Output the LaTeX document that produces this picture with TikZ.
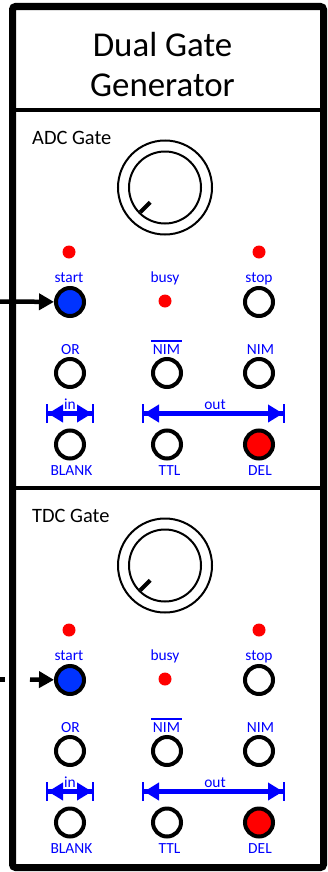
\documentclass[tikz,border=0pt]{standalone}
\usepackage{fontspec}
\setmainfont{Carlito}
\usetikzlibrary{arrows.meta,positioning,calc}
\definecolor{lblblue}{RGB}{0,0,255}
\definecolor{sockblue}{RGB}{0,51,255}
\definecolor{ledred}{RGB}{255,0,0}
\tikzset{
  casing/.style={draw=black, line width=7bp, rounded corners=3bp},
  divider/.style={draw=black, line width=4bp},
  heading/.style={font=\fontsize{35}{40}\selectfont, anchor=base, inner sep=0pt},
  gatelbl/.style={font=\fontsize{20.5}{24}\selectfont, anchor=base west, inner sep=0pt},
  knob/.style={circle, draw=black, line width=2bp, minimum size=#1, inner sep=0pt},
  knob/.default=94bp,
  pointer/.style={line width=4bp},
  socket/.style={circle, draw=black, fill=white, line width=4bp,
                 minimum size=28bp, inner sep=0pt},
  led/.style={circle, fill=ledred, minimum size=13bp, inner sep=0pt},
  lbl/.style={text=lblblue, font=\fontsize{15.5}{18}\selectfont, anchor=base, inner sep=0pt},
  nimbar/.style={draw=lblblue, line width=1.8bp},
  feed/.style={line width=4.5bp, -{Triangle[length=15bp, width=16bp]}},
  span/.style={draw=lblblue, line width=4.5bp,
    {Bar[width=19bp, line width=2bp]Triangle[length=15bp, width=17bp]}-{Triangle[length=15bp, width=17bp]Bar[width=19bp, line width=2bp]}},
}
\begin{document}
\begin{tikzpicture}[x=1bp, y=1bp]
  \useasboundingbox (0,0) rectangle (327,-872);
  % case and title
  \draw[casing] (12.5,-6.5) rectangle (323.5,-867.5);
  \node[heading] (title1) at (162.5,-56) {Dual Gate};
  \node[heading] (title2) at (162.5,-96) {Generator};
  \draw[divider] (9,-110) -- (327,-110);
  \draw[divider] (9,-488) -- (327,-488);
  % the two gate panels
  \foreach \gate/\yo/\lead in {ADC/110/0, TDC/488/30} {
    \begin{scope}[shift={(0,-\yo)}]
      \node[gatelbl] (\gate-name) at (32,-34.3) {\gate{} Gate};
      \node[knob] (\gate-knob) at (165,-77.5) {};
      \node[knob=72bp] (\gate-dial) at (\gate-knob) {};
      \draw[pointer] ($(\gate-knob)+(225:21)$) -- ($(\gate-knob)+(225:35)$);
      % start / busy / stop
      \node[led] (\gate-ledA) at (69,-142) {};
      \node[led] (\gate-ledB) at (259,-142) {};
      \node[lbl] (\gate-lstart) at (69,-172) {start};
      \node[lbl] (\gate-lbusy) at (165,-172) {busy};
      \node[lbl] (\gate-lstop) at (259,-172) {stop};
      \node[socket, fill=sockblue] (\gate-start) at (70,-192) {};
      \node[led] (\gate-busy) at (165,-191) {};
      \node[socket] (\gate-stop) at (259,-192) {};
      % OR / NIM
      \node[lbl] (\gate-lor) at (70.5,-244.3) {OR};
      \node[lbl] (\gate-lnimb) at (166.5,-244.3) {NIM};
      \draw[nimbar] ($(\gate-lnimb.north west)+(-1.5,3.5)$) -- ($(\gate-lnimb.north east)+(1.5,3.5)$);
      \node[lbl] (\gate-lnim) at (260.5,-244.3) {NIM};
      \node[socket] (\gate-or) at (70,-263) {};
      \node[socket] (\gate-nimb) at (167,-263) {};
      \node[socket] (\gate-nim) at (259,-263) {};
      % in / out
      \coordinate (\gate-inL) at (46,-303.5);
      \coordinate (\gate-inR) at (94,-303.5);
      \coordinate (\gate-outL) at (142,-303.5);
      \coordinate (\gate-outR) at (285,-303.5);
      \draw[span] (\gate-inL) -- (\gate-inR);
      \draw[span] (\gate-outL) -- (\gate-outR);
      \node[lbl] (\gate-lin) at (70,-299.5) {in};
      \node[lbl] (\gate-lout) at (215,-299.5) {out};
      % BLANK / TTL / DEL
      \node[socket] (\gate-blank) at (70,-334.5) {};
      \node[socket] (\gate-ttl) at (167,-334.5) {};
      \node[socket, fill=ledred] (\gate-del) at (259,-334.5) {};
      \node[lbl] (\gate-lblank) at (71.5,-365) {BLANK};
      \node[lbl] (\gate-lttl) at (169.5,-365) {TTL};
      \node[lbl] (\gate-ldel) at (260,-365) {DEL};
      % start input
      \coordinate (\gate-feed) at (\lead,-191.5);
      \draw[feed] (\gate-feed) -- (\gate-start);
      \ifnum\lead>0
        \coordinate (\gate-stubA) at (0,-191.5);
        \coordinate (\gate-stubB) at (5,-191.5);
        \draw[line width=4.5bp] (\gate-stubA) -- (\gate-stubB);
      \fi
    \end{scope}
  }
\end{tikzpicture}
\end{document}
